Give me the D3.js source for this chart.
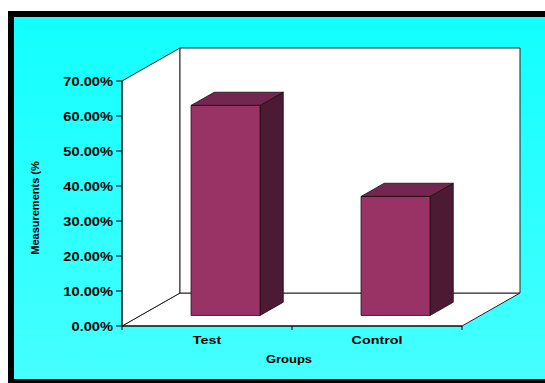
<!DOCTYPE html>
<html>
<head>
<meta charset="utf-8">
<script src="https://cdn.jsdelivr.net/npm/d3@7"></script>
<style>
  html, body { margin: 0; padding: 0; background: #ffffff; }
  svg { display: block; }
  text { font-family: "Liberation Sans", Arial, sans-serif; font-weight: bold; fill: #000; }
</style>
</head>
<body>
<script>
// Chart data
const categories = ["Test", "Control"];
const values = [0.60, 0.34];
const yTicks = [0, 0.1, 0.2, 0.3, 0.4, 0.5, 0.6, 0.7];
const xTitle = "Groups";
const yTitle = "Measurements (%";

const W = 545, H = 383;
const svg = d3.select("body").append("svg").attr("width", W).attr("height", H);

// Background gradient
const defs = svg.append("defs");
const grad = defs.append("linearGradient").attr("id", "bg").attr("x1", 0).attr("y1", 0).attr("x2", 0).attr("y2", 1);
grad.append("stop").attr("offset", "0%").attr("stop-color", "#12ffff");
grad.append("stop").attr("offset", "100%").attr("stop-color", "#46ffff");

// Frame
svg.append("rect").attr("x", 8).attr("y", 11).attr("width", 560).attr("height", 390).attr("fill", "#000");
svg.append("rect").attr("x", 14).attr("y", 17).attr("width", 560).attr("height", 362).attr("fill", "url(#bg)");

// Front-plane scales
const x = d3.scaleBand().domain(categories).range([122, 462]);
const y = d3.scaleLinear().domain([0, 0.7]).range([326, 81]);

// Depth projection (z from 0 = front to 1 = back)
const DX = 58, DY = -33;
const P = (px, py, z) => [px + DX * z, py + DY * z];

const x0 = x.range()[0], x1 = x.range()[1];
const yb = y(0), yt = y(0.7);

const wallStroke = "#222";
const poly = pts => pts.map(p => p.join(",")).join(" ");

// Floor
svg.append("polygon")
  .attr("points", poly([P(x0, yb, 0), P(x1, yb, 0), P(x1, yb, 1), P(x0, yb, 1)]))
  .attr("fill", "#fff").attr("stroke", wallStroke).attr("stroke-width", 1);
// Side wall
svg.append("polygon")
  .attr("points", poly([P(x0, yb, 0), P(x0, yt, 0), P(x0, yt, 1), P(x0, yb, 1)]))
  .attr("fill", "#fff").attr("stroke", wallStroke).attr("stroke-width", 1);
// Back wall
svg.append("polygon")
  .attr("points", poly([P(x0, yb, 1), P(x0, yt, 1), P(x1, yt, 1), P(x1, yb, 1)]))
  .attr("fill", "#fff").attr("stroke", wallStroke).attr("stroke-width", 1);

// Bars as boxes
const barFrac = 0.406, z0 = 0.32, z1 = 0.72;
const bars = svg.append("g");
categories.forEach((c, i) => {
  const cx = x(c) + x.bandwidth() / 2;
  const bw = x.bandwidth() * barFrac;
  const l = cx - bw / 2, r = cx + bw / 2;
  const top = y(values[i]), bot = y(0);
  // side face
  bars.append("polygon")
    .attr("points", poly([P(r, bot, z0), P(r, top, z0), P(r, top, z1), P(r, bot, z1)]))
    .attr("fill", "#4d1a33").attr("stroke", "#1a0a12").attr("stroke-width", 0.8);
  // top face
  bars.append("polygon")
    .attr("points", poly([P(l, top, z0), P(r, top, z0), P(r, top, z1), P(l, top, z1)]))
    .attr("fill", "#73264f").attr("stroke", "#1a0a12").attr("stroke-width", 0.8);
  // front face
  bars.append("polygon")
    .attr("points", poly([P(l, bot, z0), P(r, bot, z0), P(r, top, z0), P(l, top, z0)]))
    .attr("fill", "#993366").attr("stroke", "#1a0a12").attr("stroke-width", 0.8);
});

// Y axis ticks and labels
const yAxis = svg.append("g");
yTicks.forEach(t => {
  yAxis.append("line").attr("x1", x0 - 6).attr("x2", x0).attr("y1", y(t)).attr("y2", y(t))
    .attr("stroke", "#000").attr("stroke-width", 1);
  yAxis.append("text")
    .attr("transform", `translate(${x0 - 9},${y(t) + 4.5}) scale(1.22,1)`)
    .attr("text-anchor", "end").attr("font-size", 12)
    .text(d3.format(".2%")(t));
});
yAxis.append("line").attr("x1", x0).attr("x2", x0).attr("y1", yb).attr("y2", yt).attr("stroke", "#000");

// X axis ticks and labels
const xAxis = svg.append("g");
xAxis.append("line").attr("x1", x0).attr("x2", x1).attr("y1", yb).attr("y2", yb).attr("stroke", "#000");
[x0, ...categories.slice(1).map(c => x(c)), x1].forEach(px => {
  xAxis.append("line").attr("x1", px).attr("x2", px).attr("y1", yb).attr("y2", yb + 4)
    .attr("stroke", "#000").attr("stroke-width", 1);
});
categories.forEach(c => {
  xAxis.append("text")
    .attr("transform", `translate(${x(c) + x.bandwidth() / 2},${yb + 18}) scale(1.3,1)`)
    .attr("text-anchor", "middle").attr("font-size", 11)
    .text(c);
});

// Axis titles
svg.append("text")
  .attr("transform", `translate(${(x0 + x1) / 2 - 3},${yb + 37}) scale(1.18,1)`)
  .attr("text-anchor", "middle").attr("font-size", 11)
  .text(xTitle);
svg.append("text")
  .attr("transform", `translate(39,208) rotate(-90)`)
  .attr("text-anchor", "middle").attr("font-size", 11)
  .text(yTitle);
</script>
</body>
</html>
